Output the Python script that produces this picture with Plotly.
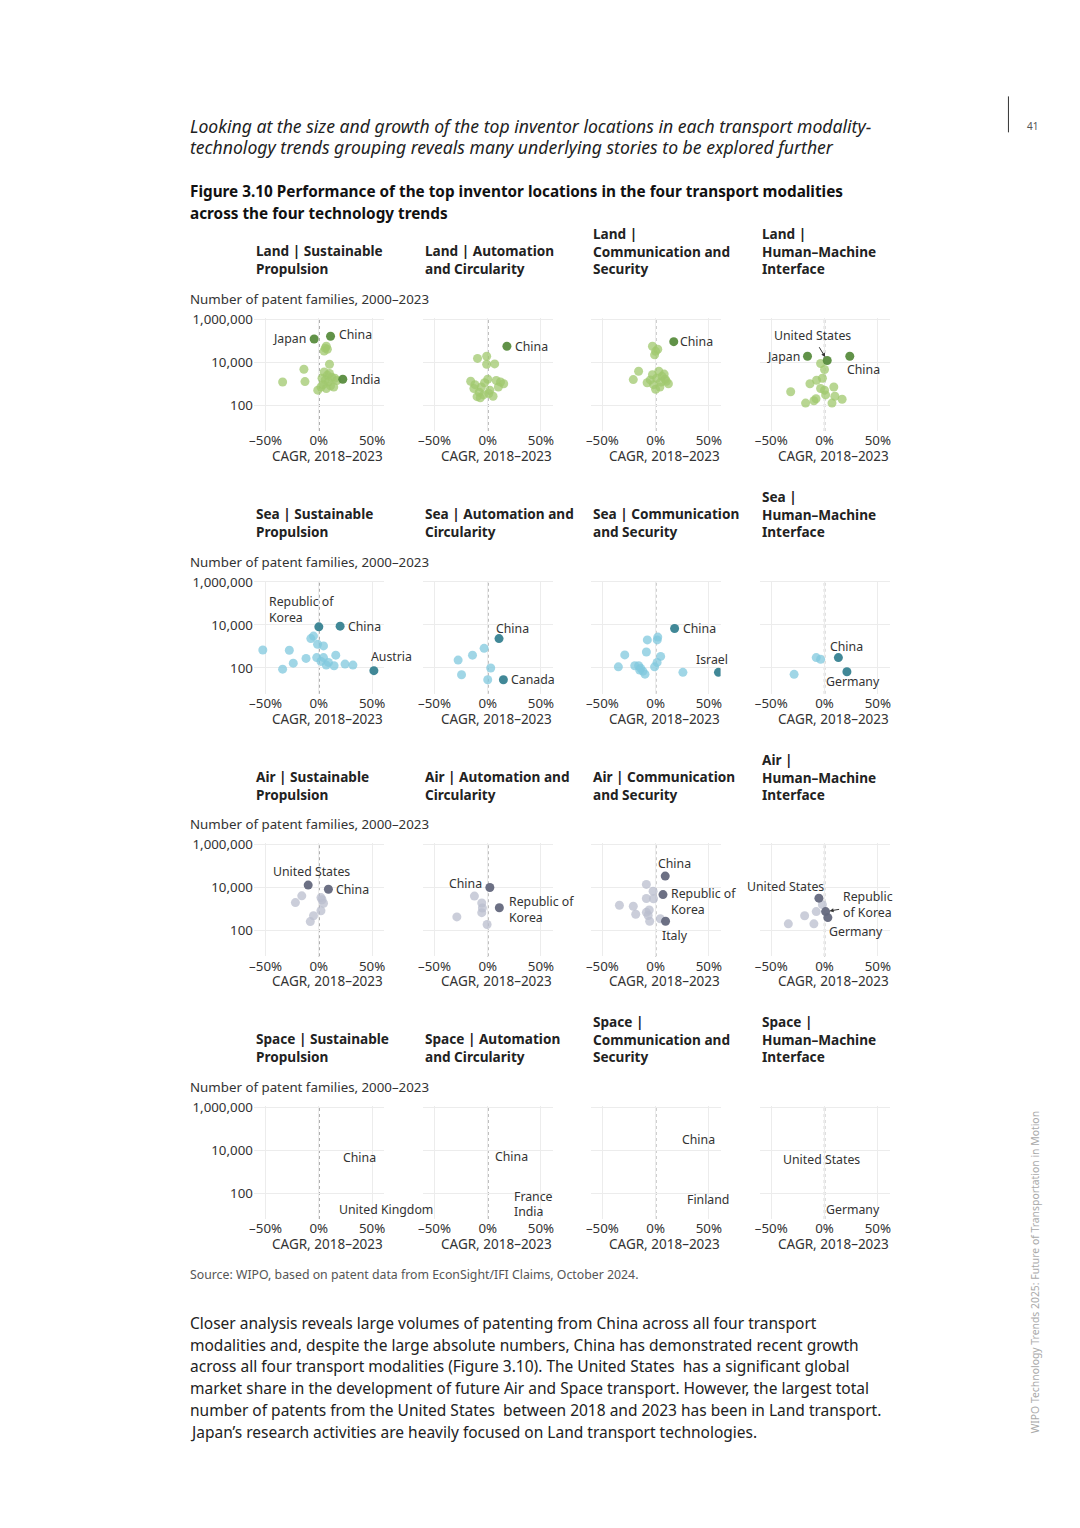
import math
import plotly.graph_objects as go

# ---------------- DATA ----------------
MODALITIES = ["Land", "Sea", "Air", "Space"]
TRENDS_TITLES = {
    "Land": ["Land | Sustainable<br>Propulsion", "Land | Automation<br>and Circularity",
             "Land |<br>Communication and<br>Security", "Land |<br>Human–Machine<br>Interface"],
    "Sea": ["Sea | Sustainable<br>Propulsion", "Sea | Automation and<br>Circularity",
            "Sea | Communication<br>and Security", "Sea |<br>Human–Machine<br>Interface"],
    "Air": ["Air | Sustainable<br>Propulsion", "Air | Automation and<br>Circularity",
            "Air | Communication<br>and Security", "Air |<br>Human–Machine<br>Interface"],
    "Space": ["Space | Sustainable<br>Propulsion", "Space | Automation<br>and Circularity",
              "Space |<br>Communication and<br>Security", "Space |<br>Human–Machine<br>Interface"],
}
X_TICKS = [-50, 0, 50]
X_TICK_LABELS = ["–50%", "0%", "50%"]
Y_TICKS = [100, 10000, 1000000]
Y_TICK_LABELS = ["100", "10,000", "1,000,000"]

# Land
land_sp_x = [6, 8, 5, 7, 10, -14, -34, -13, -1, 5, 8, 12, 15, 6, 9, 4, 11, 14, 7, 3, 10, 17, 2]
land_sp_y = [45000, 40000, 33000, 55000, 8000, 4700, 1200, 1250, 500, 3500, 2500, 2000, 1800, 1500,
             1200, 900, 800, 700, 600, 1800, 3000, 1400, 700]
land_sp_hl = ["Japan", "China", "India"]
land_sp_hl_x = [-4.4, 11, 22.5]
land_sp_hl_y = [120000, 160000, 1600]

land_ac_x = [-9.6, -1, -1, 6.5, -16, 0, 15, 10, -13, -8, -4, -10, 2, 5, -6, -3, 8, 12, -12, 1, -7]
land_ac_y = [15000, 19000, 8000, 8300, 1300, 1600, 1000, 700, 600, 400, 300, 250, 500, 260, 700, 1100,
             1400, 1200, 900, 350, 220]
land_ac_hl = ["China"]
land_ac_hl_x = [18]
land_ac_hl_y = [55000]

land_cs_x = [-3, 0, -1, 2, -16, -21, 3, 6, 9, 12, 8, -8, 0, -5, -2, 4, 10, -3, 5, 1]
land_cs_y = [55000, 32000, 22000, 40000, 3800, 1550, 3800, 2200, 1600, 1000, 2800, 1100, 550, 1500,
             900, 700, 1300, 2600, 1200, 1800]
land_cs_hl = ["China"]
land_cs_hl_x = [17]
land_cs_hl_y = [90000]

land_hmi_x = [-3.7, 0, -13.7, -7.5, -31.8, -3.7, 0, 8.7, 9.7, 16.5, -17.8, -10, -8, 7, 1, -2]
land_hmi_y = [8700, 4600, 1000, 1450, 420, 600, 500, 700, 260, 190, 125, 160, 200, 125, 300, 1800]
land_hmi_hl = ["United States", "Japan", "China"]
land_hmi_hl_x = [2.5, -16, 23.7]
land_hmi_hl_y = [12000, 19000, 19000]

# Sea
sea_sp_x = [-7.5, -5, -1.2, 4.4, -52.6, -27.7, 15.9, -2, 4.4, -12, -24, 7, 14.3, 24.6, 32, -34, 2, 9]
sea_sp_y = [2300, 3000, 1260, 1050, 680, 660, 390, 300, 300, 275, 165, 135, 125, 150, 135, 87, 200, 180]
sea_sp_hl = ["Republic of<br>Korea", "China", "Austria"]
sea_sp_hl_x = [0, 20, 51.7]
sea_sp_hl_y = [8100, 8700, 74]

sea_ac_x = [-3.4, -14.3, -27.8, 2.8, -24.6, 0]
sea_ac_y = [810, 390, 230, 98, 48, 28]
sea_ac_hl = ["China", "Canada"]
sea_ac_hl_x = [10.6, 14.7]
sea_ac_hl_y = [2300, 28]

sea_cs_x = [-7.8, 1.5, 2, -8.7, -29, 4.7, -35, -19.6, -16, -14, -10, -12, -1, 1.4, 25.6, -15]
sea_cs_y = [2000, 2000, 2700, 550, 400, 340, 112, 126, 125, 95, 51, 70, 112, 180, 62, 80]
sea_cs_hl = ["China", "Israel"]
sea_cs_hl_x = [17.8, 59]
sea_cs_hl_y = [6800, 62]

sea_hmi_x = [-7.8, -3.7, -28.6]
sea_hmi_y = [300, 250, 50]
sea_hmi_hl = ["China", "Germany"]
sea_hmi_hl_x = [13, 21]
sea_hmi_hl_y = [300, 66]

# Air
air_sp_x = [-16, -22, 2, 4.4, 2, -5, -8, 3]
air_sp_y = [4100, 2000, 3400, 1860, 830, 490, 260, 2700]
air_sp_hl = ["United States", "China"]
air_sp_hl_x = [-10, 9]
air_sp_hl_y = [13000, 8300]

air_ac_x = [-12.5, -5.6, -5, -5.6, -29, -0.6]
air_ac_y = [4000, 1900, 1120, 680, 430, 190]
air_ac_hl = ["China", "Republic of<br>Korea"]
air_ac_hl_x = [2, 10.9]
air_ac_hl_y = [10000, 1150]

air_cs_x = [-8.7, -2.4, -8.7, -2, -34, -21, -18.7, -8.7, -7, -5.6, 4.4, -6]
air_cs_y = [14000, 6800, 3100, 3000, 1500, 1350, 575, 700, 500, 270, 355, 900]
air_cs_hl = ["China", "Republic of<br>Korea", "Italy"]
air_cs_hl_x = [9, 6.9, 9.3]
air_cs_hl_y = [34000, 4700, 270]

air_hmi_x = [-2, -7.8, -18.7, -34, -10]
air_hmi_y = [1600, 760, 490, 205, 205]
air_hmi_hl = ["United States", "Republic<br>of Korea", "Germany"]
air_hmi_hl_x = [-5.3, 1, 3.1]
air_hmi_hl_y = [3200, 760, 400]

# Space (points not visible in the source, only their labels)
space_sp_x, space_sp_y = [], []
space_sp_hl = ["China", "United Kingdom"]
space_sp_hl_x = [15, 11]
space_sp_hl_y = [4700, 18]

space_ac_x, space_ac_y = [], []
space_ac_hl = ["China", "France", "India"]
space_ac_hl_x = [-1, 17, 17]
space_ac_hl_y = [5200, 72, 14]

space_cs_x, space_cs_y = [], []
space_cs_hl = ["China", "Finland"]
space_cs_hl_x = [17, 22]
space_cs_hl_y = [32000, 52]

space_hmi_x, space_hmi_y = [], []
space_hmi_hl = ["United States", "Germany"]
space_hmi_hl_x = [-3, 21]
space_hmi_hl_y = [950, 52]

PANELS = [
    [(land_sp_x, land_sp_y, land_sp_hl, land_sp_hl_x, land_sp_hl_y),
     (land_ac_x, land_ac_y, land_ac_hl, land_ac_hl_x, land_ac_hl_y),
     (land_cs_x, land_cs_y, land_cs_hl, land_cs_hl_x, land_cs_hl_y),
     (land_hmi_x, land_hmi_y, land_hmi_hl, land_hmi_hl_x, land_hmi_hl_y)],
    [(sea_sp_x, sea_sp_y, sea_sp_hl, sea_sp_hl_x, sea_sp_hl_y),
     (sea_ac_x, sea_ac_y, sea_ac_hl, sea_ac_hl_x, sea_ac_hl_y),
     (sea_cs_x, sea_cs_y, sea_cs_hl, sea_cs_hl_x, sea_cs_hl_y),
     (sea_hmi_x, sea_hmi_y, sea_hmi_hl, sea_hmi_hl_x, sea_hmi_hl_y)],
    [(air_sp_x, air_sp_y, air_sp_hl, air_sp_hl_x, air_sp_hl_y),
     (air_ac_x, air_ac_y, air_ac_hl, air_ac_hl_x, air_ac_hl_y),
     (air_cs_x, air_cs_y, air_cs_hl, air_cs_hl_x, air_cs_hl_y),
     (air_hmi_x, air_hmi_y, air_hmi_hl, air_hmi_hl_x, air_hmi_hl_y)],
    [(space_sp_x, space_sp_y, space_sp_hl, space_sp_hl_x, space_sp_hl_y),
     (space_ac_x, space_ac_y, space_ac_hl, space_ac_hl_x, space_ac_hl_y),
     (space_cs_x, space_cs_y, space_cs_hl, space_cs_hl_x, space_cs_hl_y),
     (space_hmi_x, space_hmi_y, space_hmi_hl, space_hmi_hl_x, space_hmi_hl_y)],
]

# ---------------- STYLE ----------------
# label placement: (xanchor, xshift, yshift, arrow_ax, arrow_ay)  arrow_* None = no arrow
LABEL_PLACE = [
    [[("right", -6, 0, None, None), ("left", 6, 2, None, None), ("left", 6, 0, None, None)],
     [("left", 6, 0, None, None)],
     [("left", 4, 0, None, None)],
     [("center", 0, 0, -15, -25), ("right", -6, 0, None, None), ("left", -5, -13, None, None)]],
    [[("center", 0, 0, -17, -17), ("left", 6, 0, None, None), ("center", 18, 14, None, None)],
     [("center", 13, 10, None, None), ("left", 6, 0, None, None)],
     [("left", 6, 0, None, None), ("center", -6, 13, None, None)],
     [("center", 8, 11, None, None), ("center", 6, -10, None, None)]],
    [[("center", 3, 14, None, None), ("left", 6, 0, None, None)],
     [("right", -6, 4, None, None), ("left", 8, -2, None, None)],
     [("left", -9, 13, None, None), ("left", 6, -7, None, None), ("left", -6, -14, None, None)],
     [("right", 7, 12, None, None), ("center", 0, 0, 42, -7), ("left", -1, -14, None, None)]],
    [[("left", 6, 0, None, None), ("left", 6, 0, None, None)],
     [("left", 6, 0, None, None), ("left", 6, 0, None, None), ("left", 6, 0, None, None)],
     [("left", 6, 0, None, None), ("left", 6, 0, None, None)],
     [("center", 0, 13, None, None), ("center", 6, -10, None, None)]],
]

LIGHT = ["rgba(160,200,110,0.75)", "rgba(128,200,222,0.75)", "rgba(185,190,205,0.75)", "rgba(0,0,0,0)"]
DARK = ["rgba(88,140,62,0.95)", "rgba(55,130,145,0.95)", "rgba(100,104,125,0.95)", "rgba(0,0,0,0)"]

W, H = 1080, 1528
FONT = "Noto Sans"
COL_LEFT = [253, 422, 590, 759]
ROW_TOP = [317, 580, 843, 1106]
PW, PH = 130, 113


# target-pixel -> paper coordinates (with a small correction for the page offset)
def px(x):
    return ((x - 12.0) / 0.995) / W


def py(y):
    return 1 - ((y - 14.5) / 0.996) / H


fig = go.Figure()
annotations = []
shapes = []
layout_axes = {}

for r in range(4):
    for c in range(4):
        i = r * 4 + c + 1
        xs = "x" if i == 1 else f"x{i}"
        ys = "y" if i == 1 else f"y{i}"
        xa = "xaxis" if i == 1 else f"xaxis{i}"
        ya = "yaxis" if i == 1 else f"yaxis{i}"
        l, t = COL_LEFT[c], ROW_TOP[r]
        layout_axes[xa] = dict(domain=[px(l), px(l + PW)], anchor=ys, range=[-61, 61],
                               tickvals=X_TICKS, ticktext=X_TICK_LABELS, showgrid=True,
                               gridcolor="#ececec", gridwidth=1, zeroline=False, showline=False,
                               ticks="", tickfont=dict(size=13.3, color="#333", family=FONT),
                               fixedrange=True)
        layout_axes[ya] = dict(domain=[py(t + PH), py(t)], anchor=xs, type="log", range=[0.8, 6.05],
                               tickvals=Y_TICKS, ticktext=Y_TICK_LABELS, showgrid=True,
                               gridcolor="#ececec", gridwidth=1, zeroline=False, showline=False,
                               ticks="", showticklabels=(c == 0),
                               tickfont=dict(size=13.3, color="#333", family=FONT), fixedrange=True)
        ox, oy, names, hx, hy = PANELS[r][c]
        if ox:
            fig.add_trace(go.Scatter(x=ox, y=oy, mode="markers", xaxis=xs, yaxis=ys,
                                     marker=dict(size=9, color=LIGHT[r], line=dict(width=0)),
                                     showlegend=False, hoverinfo="skip"))
        fig.add_trace(go.Scatter(x=hx, y=hy, mode="markers", xaxis=xs, yaxis=ys,
                                 marker=dict(size=9, color=DARK[r], line=dict(width=0)),
                                 showlegend=False, hoverinfo="skip"))
        # dotted zero line
        shapes.append(dict(type="line", xref=xs, yref=f"{ys} domain", x0=0, x1=0, y0=0, y1=1,
                           line=dict(color="#555", width=1.3, dash="dot"), layer="below"))
        # point labels
        for k, name in enumerate(names):
            xanc, xsh, ysh, ax, ay = LABEL_PLACE[r][c][k]
            ann = dict(x=hx[k], y=math.log10(hy[k]), xref=xs, yref=ys, text=name, align="left",
                       font=dict(size=12.3, color="#333", family=FONT))
            if ax is None:
                ann.update(showarrow=False, xanchor=xanc, yanchor="middle", xshift=xsh, yshift=ysh)
            else:
                ann.update(showarrow=True, ax=ax, ay=ay, arrowhead=2, arrowsize=0.8, arrowwidth=1,
                           arrowcolor="#333", standoff=4, startstandoff=2)
            annotations.append(ann)
        # panel titles
        annotations.append(dict(x=px(l), y=py(t - 38), xref="paper", yref="paper", xanchor="left",
                                yanchor="bottom", align="left", showarrow=False,
                                text=f"<b>{TRENDS_TITLES[MODALITIES[r]][c]}</b>",
                                font=dict(size=13.6, color="#222", family=FONT)))
        # x axis title
        annotations.append(dict(x=px(l + PW / 2 + 9), y=py(t + 138), xref="paper", yref="paper",
                                xanchor="center", yanchor="middle", showarrow=False,
                                text="CAGR, 2018–2023", font=dict(size=13.5, color="#333", family=FONT)))
    # y axis title per row
    annotations.append(dict(x=px(187), y=py(ROW_TOP[r] - 19), xref="paper", yref="paper",
                            xanchor="left", yanchor="middle", showarrow=False,
                            text="Number of patent families, 2000–2023",
                            font=dict(size=13.3, color="#333", family=FONT)))


# page texts
def text_line(x, y, s, size, color="#222", anchor="left", angle=0):
    annotations.append(dict(x=px(x), y=py(y), xref="paper", yref="paper", xanchor=anchor,
                            yanchor="middle", showarrow=False, text=s, textangle=angle,
                            font=dict(size=size, color=color, family=FONT)))


text_line(187, 125, "<i>Looking at the size and growth of the top inventor locations in each transport modality-</i>", 17.6)
text_line(187, 146, "<i>technology trends grouping reveals many underlying stories to be explored further</i>", 17.6)
text_line(187, 190, "<b>Figure 3.10 Performance of the top inventor locations in the four transport modalities</b>", 15.3, "#111")
text_line(187, 212, "<b>across the four technology trends</b>", 15.3, "#111")
text_line(187, 1275, "Source: WIPO, based on patent data from EconSight/IFI Claims, October 2024.", 12.3, "#555")
body = [
    "Closer analysis reveals large volumes of patenting from China across all four transport",
    "modalities and, despite the large absolute numbers, China has demonstrated recent growth",
    "across all four transport modalities (Figure 3.10). The United States  has a significant global",
    "market share in the development of future Air and Space transport. However, the largest total",
    "number of patents from the United States  between 2018 and 2023 has been in Land transport.",
    "Japan’s research activities are heavily focused on Land transport technologies.",
]
for j, line in enumerate(body):
    text_line(187, 1323 + j * 21.8, line, 15.5, "#222")
text_line(1032, 125, "41", 10, "#555", anchor="center")
text_line(1035, 1272, "WIPO Technology Trends 2025: Future of Transportation in Motion", 10.4, "#aaa",
          anchor="center", angle=-90)
shapes.append(dict(type="line", xref="paper", yref="paper", x0=px(1008), x1=px(1008), y0=py(95), y1=py(131),
                   line=dict(color="#333", width=1)))

fig.update_layout(width=W, height=H, margin=dict(l=0, r=0, t=0, b=0), paper_bgcolor="white",
                  plot_bgcolor="white", showlegend=False, annotations=annotations, shapes=shapes,
                  font=dict(family=FONT), **layout_axes)
fig.write_html("out.html")
